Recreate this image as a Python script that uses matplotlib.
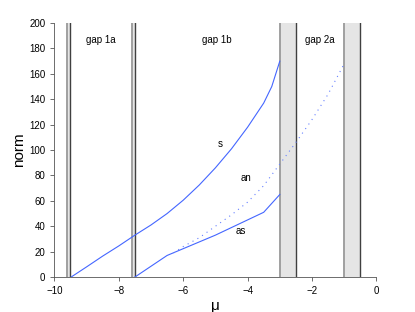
import numpy as np
import matplotlib.pyplot as plt

plt.rcParams['font.family'] = ['Liberation Sans', 'DejaVu Sans']

# band gaps (left edge, right edge)
gaps = [(-9.6, -9.5), (-7.6, -7.5), (-3.0, -2.5), (-1.0, -0.5)]
gap_names = ['gap 1a', 'gap 1b', 'gap 2a']
gap_name_x = [-8.55, -4.95, -1.75]

# branch "s"
s_mu = [-9.48, -9.0, -8.5, -8.0, -7.5, -7.0, -6.5, -6.0, -5.5, -5.0, -4.5, -4.0, -3.5, -3.25, -3.0]
s_norm = [0, 8, 16.5, 24.5, 33, 41, 50, 60.5, 72.5, 86, 101, 118, 137, 150, 170]

# branch "as"
as_mu = [-7.5, -6.5, -5.0, -3.5, -3.0]
as_norm = [0, 17, 33, 51, 65]

# branch "an" (dotted)
an_mu = [-6.3, -6.0, -5.5, -5.0, -4.5, -4.0, -3.5, -3.0, -2.5, -2.0, -1.5, -1.0]
an_norm = [19, 24, 31, 40, 49, 59, 72, 89, 106, 124, 144, 168]

fig = plt.figure(figsize=(4.15, 3.12), dpi=100)
ax = fig.add_axes([0.131, 0.112, 0.776, 0.814])

for lo, hi in gaps:
    ax.axvspan(lo, hi, color='#e5e5e5', lw=0)
    ax.axvline(lo, color='#a0a0a0', lw=1.4)
    ax.axvline(hi, color='#404040', lw=1.0)

ax.plot(s_mu, s_norm, color='#4466ff', lw=0.8)
ax.plot(as_mu, as_norm, color='#4466ff', lw=0.8)
ax.plot(an_mu, an_norm, color='#6680ff', lw=0.8, ls=(0, (1, 4)))

ax.text(-4.85, 105, 's', fontsize=7, ha='center', va='center')
ax.text(-4.05, 78, 'an', fontsize=7, ha='center', va='center')
ax.text(-4.2, 36.5, 'as', fontsize=7, ha='center', va='center')
for name, x in zip(gap_names, gap_name_x):
    ax.text(x, 187, name, fontsize=7, ha='center', va='center')

ax.set_xlim(-10, 0)
ax.set_ylim(0, 200)
ax.set_xticks(np.arange(-10, 1, 2))
ax.set_yticks(np.arange(0, 201, 20))
ax.tick_params(labelsize=7, direction='out', length=3, width=0.6, color='#555555')
ax.spines['top'].set_visible(False)
ax.spines['right'].set_visible(False)
for side in ['left', 'bottom']:
    ax.spines[side].set_linewidth(0.6)
    ax.spines[side].set_color('#555555')
ax.set_xlabel('μ', fontsize=11, labelpad=2)
ax.set_ylabel('norm', fontsize=11, labelpad=2)

fig.savefig('out.png', dpi=100)
